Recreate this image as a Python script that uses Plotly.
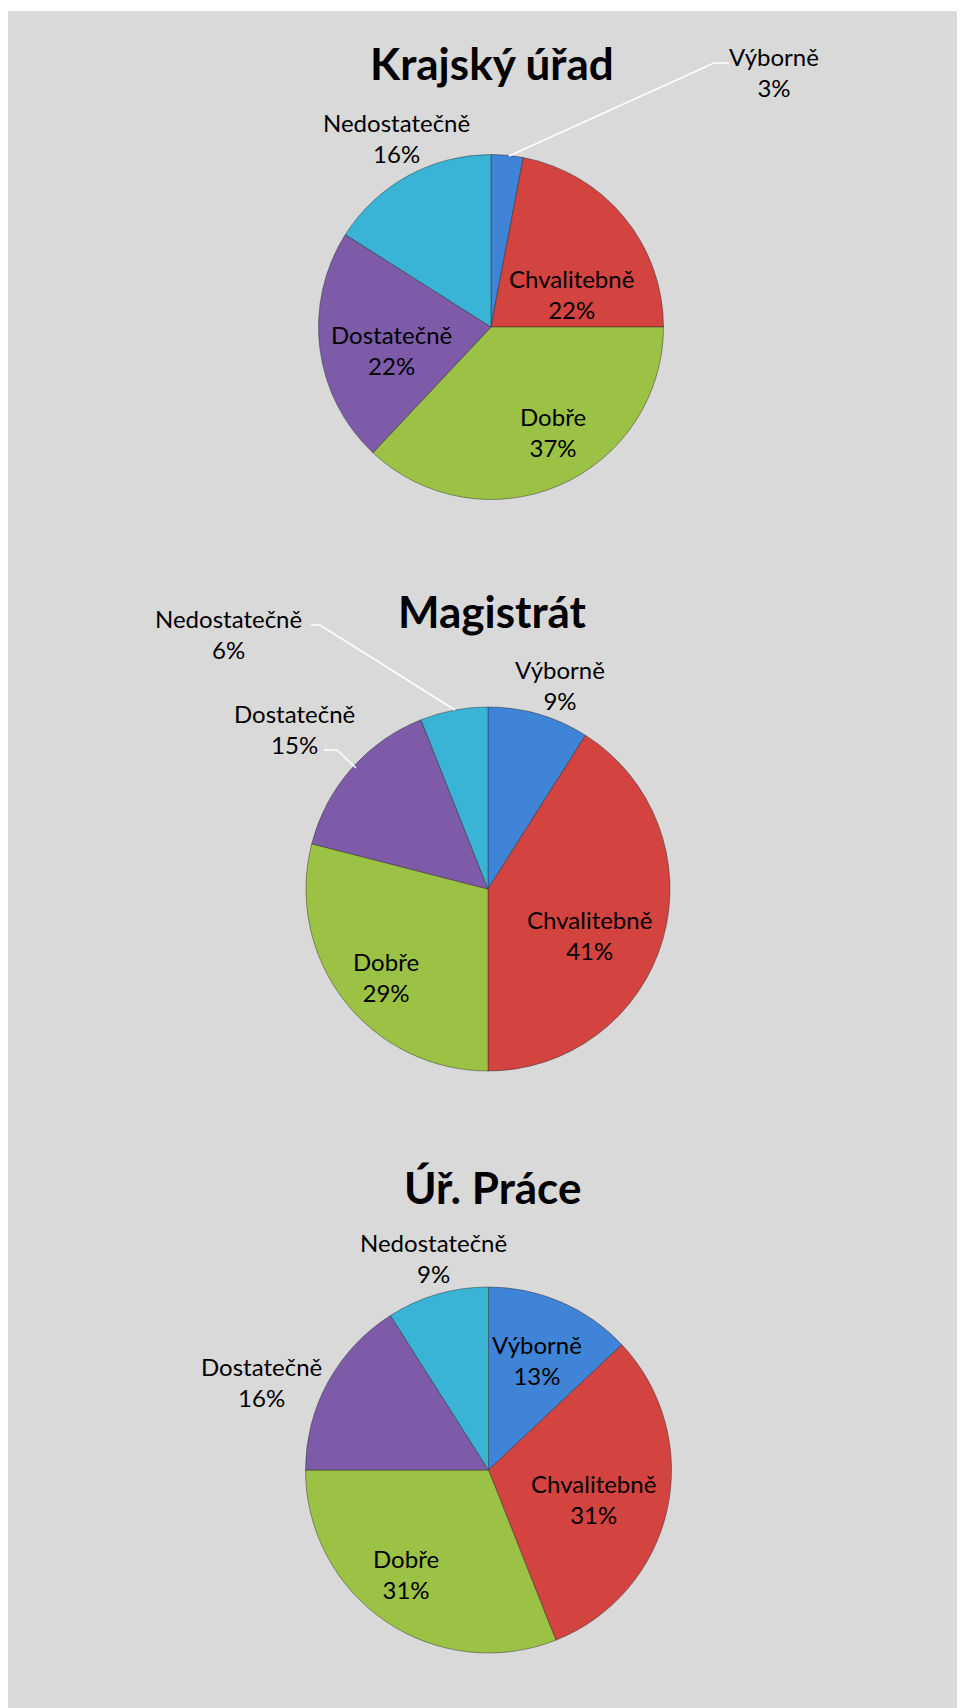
import plotly.graph_objects as go

# ---- data ----
categories = ["Výborně", "Chvalitebně", "Dobře", "Dostatečně", "Nedostatečně"]
titles = ["Krajský úřad", "Magistrát", "Úř. Práce"]
krajsky_urad = [3, 22, 37, 22, 16]
magistrat = [9, 41, 29, 15, 6]
urad_prace = [13, 31, 31, 16, 9]
series = [krajsky_urad, magistrat, urad_prace]

colors = ["#3f84d6", "#d3433f", "#9bc244", "#7d5ba8", "#3ab4d6"]

# ---- layout (page px; the page body adds an 8px offset) ----
OFF = 8
W, H = 957, 1700
pies = [(491, 327, 172.5), (488, 889, 182), (488.5, 1470, 183)]  # cx, cy, r
title_xy = [(492, 63), (492, 611), (492, 1187)]
label_xy = [
    [(774, 72), (571, 294), (553, 432), (391, 350), (396, 138)],
    [(560, 685), (589, 935), (386, 977), (294, 729), (228, 634)],
    [(537, 1360), (593, 1499), (406, 1574), (261, 1382), (433, 1258)],
]
leaders = [
    [(729, 63), (714, 63), (509, 156)],
    [(311, 625), (320, 625), (455, 710)],
    [(324, 750), (337, 750), (356, 768)],
]


def px(x):
    return (x - OFF) / W


def py(y):
    return 1 - (y - OFF) / H


fig = go.Figure()
annotations = []
for i, (vals, (cx, cy, r)) in enumerate(zip(series, pies)):
    fig.add_trace(go.Pie(
        labels=categories, values=vals, sort=False, direction="clockwise",
        rotation=0,
        marker=dict(colors=colors, line=dict(color="rgba(40,40,40,0.45)", width=1)),
        textinfo="none",
        showlegend=False, hoverinfo="label+percent",
        domain=dict(x=[px(cx - r), px(cx + r)], y=[py(cy + r), py(cy - r)]),
    ))
    tx, ty = title_xy[i]
    annotations.append(dict(text="<b>%s</b>" % titles[i], x=px(tx), y=py(ty),
                            xref="paper", yref="paper", showarrow=False,
                            font=dict(family="Lato", size=44, color="black"),
                            xanchor="center", yanchor="middle"))
    for cat, v, (lx, ly) in zip(categories, vals, label_xy[i]):
        annotations.append(dict(text="%s<br>%d%%" % (cat, v), x=px(lx), y=py(ly),
                                xref="paper", yref="paper", showarrow=False,
                                font=dict(family="Lato", size=24, color="black"),
                                xanchor="center", yanchor="middle", align="center"))

shapes = [dict(type="rect", xref="paper", yref="paper", x0=0, x1=1, y0=0, y1=py(11),
               fillcolor="#d9d9d9", line=dict(width=0), layer="below")]
for pts in leaders:
    path = "M " + " L ".join("%f,%f" % (px(x), py(y)) for x, y in pts)
    shapes.append(dict(type="path", xref="paper", yref="paper", path=path,
                       line=dict(color="white", width=1.5), layer="above"))

fig.update_layout(
    width=W, height=H, margin=dict(l=0, r=0, t=0, b=0),
    paper_bgcolor="white", plot_bgcolor="white",
    shapes=shapes, annotations=annotations,
)
fig.write_html("out.html")
